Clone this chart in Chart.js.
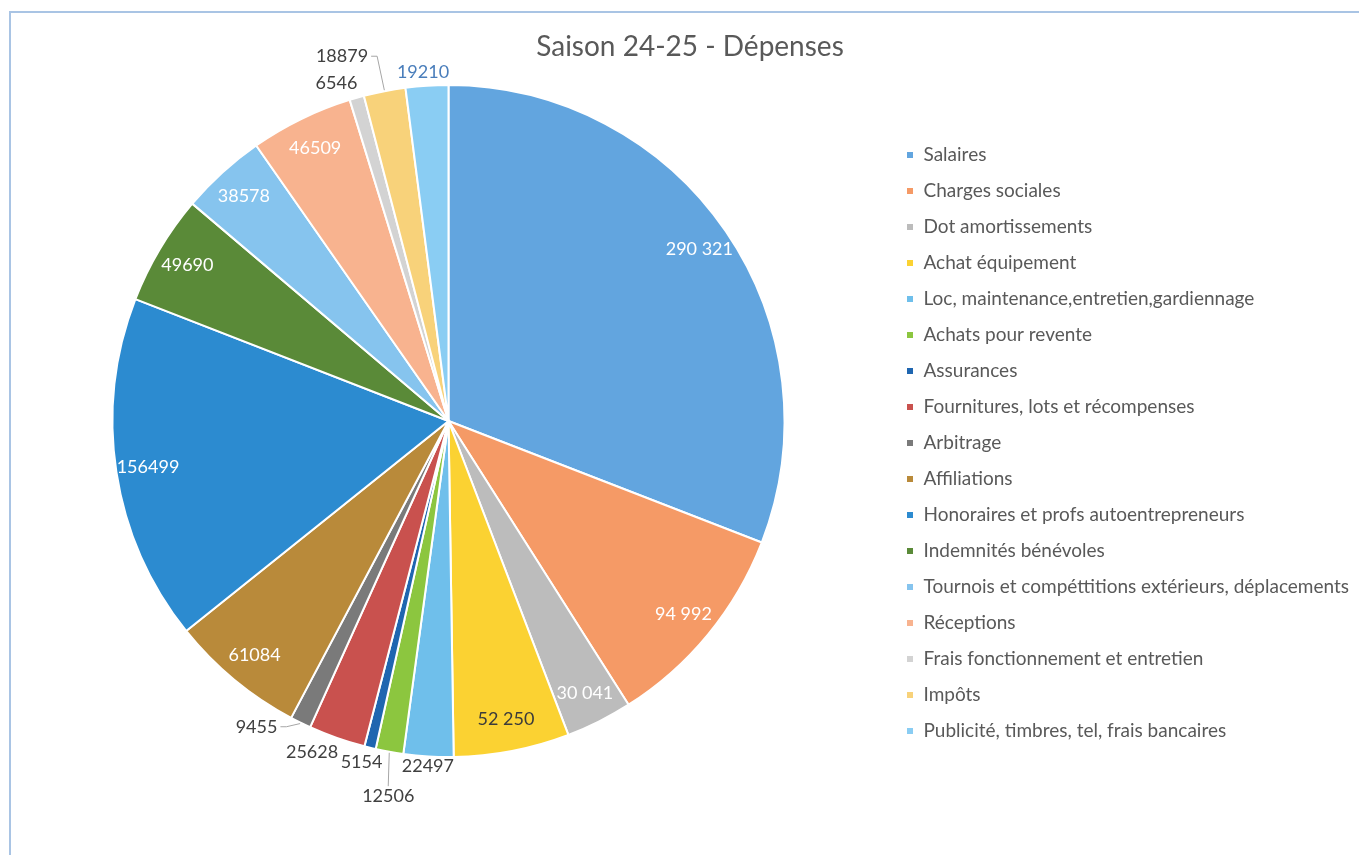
<!DOCTYPE html>
<html>
<head>
<meta charset="utf-8">
<title>Saison 24-25 - Dépenses</title>
<script src="https://cdn.jsdelivr.net/npm/chart.js@4/dist/chart.umd.min.js"></script>
<style>
  html, body { margin: 0; padding: 0; background: #fff; }
  #cadre { position: relative; width: 1359px; height: 855px; overflow: hidden; }
  #bordure { position: absolute; left: 9px; top: 11px; width: 1400px; height: 900px;
             border-left: 2px solid #a9c4e4; border-top: 2px solid #a9c4e4; }
  canvas { position: absolute; left: 0; top: 0; }
</style>
</head>
<body>
<div id="cadre">
  <div id="bordure"></div>
  <canvas id="depensesChart" width="1359" height="855"></canvas>
</div>
<script>
// Données
const titre = 'Saison 24-25 - Dépenses';
const categories = [
  'Salaires', 'Charges sociales', 'Dot amortissements', 'Achat équipement',
  'Loc, maintenance,entretien,gardiennage', 'Achats pour revente', 'Assurances',
  'Fournitures, lots et récompenses', 'Arbitrage', 'Affiliations',
  'Honoraires et profs autoentrepreneurs', 'Indemnités bénévoles',
  'Tournois et compéttitions extérieurs, déplacements', 'Réceptions',
  'Frais fonctionnement et entretien', 'Impôts', 'Publicité, timbres, tel, frais bancaires'
];
const montants = [
  290321, 94992, 30041, 52250, 22497, 12506, 5154, 25628, 9455,
  61084, 156499, 49690, 38578, 46509, 6546, 18879, 19210
];
// étiquettes avec séparateur de milliers (comme sur l'original)
const avecEspace = [0, 1, 2, 3];

const couleurs = [
  '#62a5df', '#f59a66', '#bcbcbc', '#fbd232', '#6fbfeb', '#8cc63f', '#1f66b0',
  '#c9514e', '#7a7a7a', '#b98a3a', '#2c8bd0', '#5a8a38', '#86c4ee', '#f8b38f',
  '#d3d3d3', '#f8d27a', '#8acdf3'
];

// placement des étiquettes à l'extérieur : d = distance au bord, a = décalage d'angle (degrés)
const exterieur = {
  4: { d: 10, a: 0 },
  5: { d: 44, a: -1, trait: true },
  6: { d: 16, a: 0.8 },
  7: { d: 22, a: 3 },
  8: { d: 25, a: 6, trait: true },
  14: { d: 20, a: -2.5 },
  15: { d: 44, a: -5.3, trait: true },
  16: { d: 14, a: -0.5, couleur: '#4a7ebb' }
};
const sombreInterieur = [3];

function formater(v, i) {
  const s = String(v);
  return avecEspace.includes(i) ? s.replace(/\B(?=(\d{3})+(?!\d))/g, ' ') : s;
}

// Plugin : titre + étiquettes de valeurs
const etiquettes = {
  id: 'etiquettes',
  afterDatasetsDraw(chart) {
    const ctx = chart.ctx;
    ctx.save();
    ctx.textAlign = 'center';
    ctx.textBaseline = 'middle';

    ctx.font = '28px Lato';
    ctx.fillStyle = '#595959';
    ctx.fillText(titre, 690, 47);

    ctx.font = '18px Lato';
    const arcs = chart.getDatasetMeta(0).data;
    arcs.forEach((arc, i) => {
      const p = arc.getProps(['x', 'y', 'startAngle', 'endAngle', 'outerRadius'], true);
      const mid = (p.startAngle + p.endAngle) / 2;
      const texte = formater(montants[i], i);
      const ext = exterieur[i];
      if (!ext) {
        const r = p.outerRadius - 32;
        ctx.fillStyle = sombreInterieur.includes(i) ? '#3b3b3b' : '#ffffff';
        ctx.fillText(texte, p.x + Math.cos(mid) * r, p.y + Math.sin(mid) * r);
        return;
      }
      const ang = mid + ext.a * Math.PI / 180;
      const r = p.outerRadius + ext.d;
      const lx = p.x + Math.cos(ang) * r;
      const ly = p.y + Math.sin(ang) * r;
      ctx.fillStyle = ext.couleur || '#404040';
      ctx.fillText(texte, lx, ly);
      if (ext.trait) {
        const ex = p.x + Math.cos(mid) * (p.outerRadius + 1);
        const ey = p.y + Math.sin(mid) * (p.outerRadius + 1);
        const w = ctx.measureText(texte).width;
        ctx.strokeStyle = '#a6a6a6';
        ctx.lineWidth = 1;
        ctx.beginPath();
        if (Math.abs(ex - lx) > w / 2 + 2) {
          const sx = ex > lx ? lx + w / 2 + 3 : lx - w / 2 - 3;
          ctx.moveTo(sx, ly);
          ctx.lineTo(sx + (ex > lx ? 6 : -6), ly);
        } else {
          ctx.moveTo(lx, ey > ly ? ly + 10 : ly - 10);
        }
        ctx.lineTo(ex, ey);
        ctx.stroke();
      }
    });
    ctx.restore();
  }
};

const ctx = document.getElementById('depensesChart').getContext('2d');
new Chart(ctx, {
  type: 'pie',
  data: {
    labels: categories,
    datasets: [{
      data: montants,
      backgroundColor: couleurs,
      borderColor: '#ffffff',
      borderWidth: 2
    }]
  },
  options: {
    responsive: false,
    animation: false,
    layout: { padding: { top: 84, bottom: 97, left: 8, right: 0 } },
    plugins: {
      legend: {
        display: true,
        position: 'right',
        align: 'center',
        title: { display: true, text: ' ', font: { size: 10 }, padding: { top: 0, bottom: 32 } },
        labels: {
          boxWidth: 8,
          boxHeight: 8,
          padding: 17,
          color: '#595959',
          font: { family: 'Lato', size: 19 }
        }
      },
      tooltip: { enabled: false }
    }
  },
  plugins: [etiquettes]
});
</script>
</body>
</html>
